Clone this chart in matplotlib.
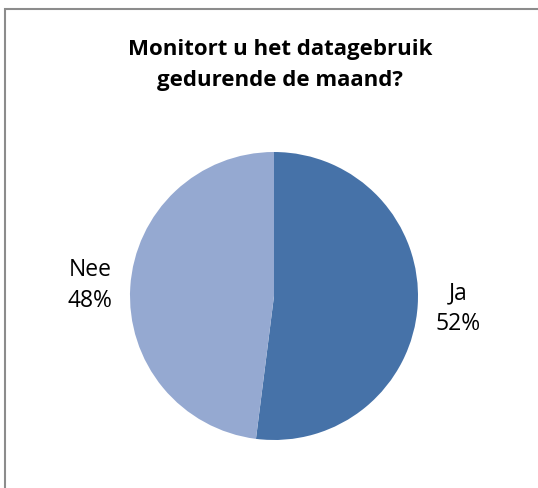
import matplotlib
matplotlib.use("Agg")
import matplotlib.pyplot as plt
from matplotlib.patches import Rectangle

categories = ["Ja", "Nee"]
values = [52, 48]
colors = ["#4672A8", "#95A9D1"]
title = "Monitort u het datagebruik\ngedurende de maand?"

W, H = 538, 489
plt.rcParams['font.family'] = ['Open Sans', 'DejaVu Sans']
fig = plt.figure(figsize=(W / 100, H / 100), dpi=100)

# border
fig.patches.append(Rectangle((5 / W, -0.1), 1.2, 1.1 - 10 / H, transform=fig.transFigure,
                             fill=False, edgecolor="#8C8C8C", linewidth=1.5))

cx, cy, r = 274, 297, 144
ax = fig.add_axes([(cx - r) / W, (H - cy - r) / H, 2 * r / W, 2 * r / H])
labels = [f"{c}\n{v}%" for c, v in zip(categories, values)]
wedges, texts = ax.pie(values, colors=colors, startangle=90, counterclock=False,
                       labels=labels, labeldistance=1.28, radius=1,
                       wedgeprops=dict(linewidth=0),
                       textprops=dict(fontsize=16.5, color="black", linespacing=1.4))
for t in texts:
    t.set_ha("center")
    t.set_va("center")
ax.set_xlim(-1, 1)
ax.set_ylim(-1, 1)
ax.set_aspect("equal")
ax.axis("off")

fig.text(280 / W, 1 - 65 / H, title, ha="center", va="center", fontsize=16,
         fontweight="bold", linespacing=1.6)

fig.savefig("out.png", dpi=100)
